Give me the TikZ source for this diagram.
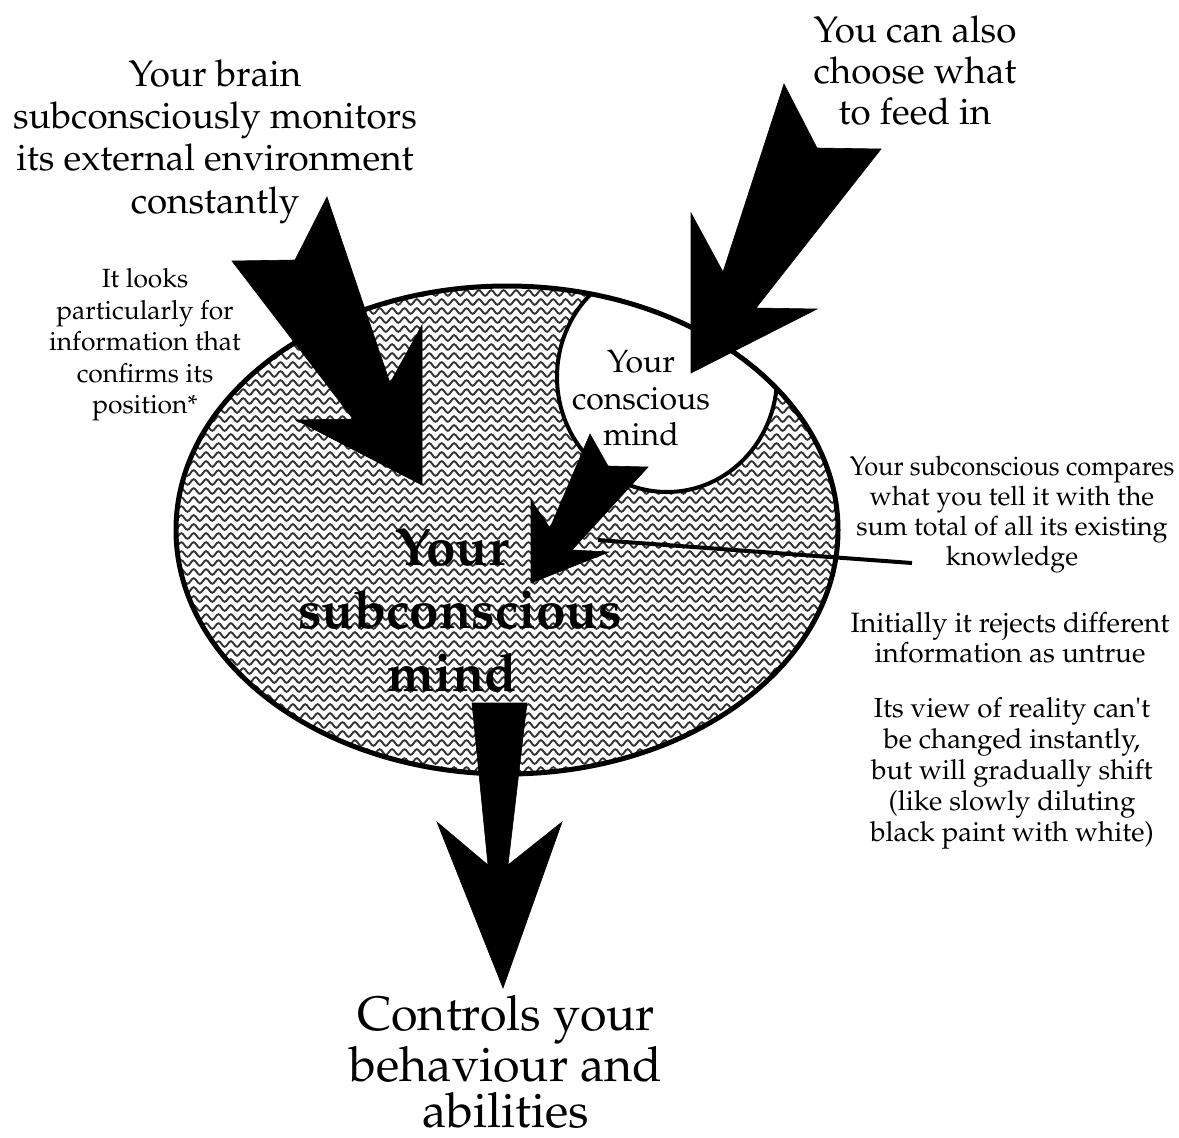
\documentclass[tikz,border=0pt]{standalone}
\usepackage[T1]{fontenc}
\usepackage{mathpazo}
\usetikzlibrary{decorations.pathmorphing}
\begin{document}
\begin{tikzpicture}[x=0.5pt,y=-0.5pt,
  txt/.style={align=center, inner sep=0pt, anchor=north},
  blockarrow/.style={fill=black, draw=black, line width=0.3pt, line join=miter},
  wave/.style={draw=black!80, line width=0.95pt, decorate,
    decoration={snake, segment length=6.2pt, amplitude=1.4pt}},
  rim/.style={draw=black, line width=2.5pt},
]
\useasboundingbox (0,0) rectangle (1179,1137);

% centres of the two regions of the mind
\coordinate (sub) at (507,530);
\coordinate (con) at (667,377);

% wavy fill of the subconscious region
\begin{scope}
  \clip (sub) ellipse [x radius=331, y radius=244];
  \foreach \r in {0,...,56} {
    \draw[wave] (165,284+9*\r) -- (850,284+9*\r);
  }
  % conscious region, cut off at the rim
  \filldraw[fill=white, draw=black, line width=2pt]
    (con) ellipse [x radius=110, y radius=115];
\end{scope}
\draw[rim] (sub) ellipse [x radius=331, y radius=244];

% texts
\node[txt, font=\fontsize{18.4}{21.2}\selectfont] (brain) at (215,59)
  {Your brain\\subconsciously monitors\\its external environment\\constantly};
\node[txt, font=\fontsize{18.4}{20.6}\selectfont] (feed) at (915,15)
  {You can also\\choose what\\to feed in};
\node[txt, font=\fontsize{13.2}{15.75}\selectfont] (looks) at (145,268)
  {It looks\\particularly for\\information that\\confirms its\\position*};
\node[txt, font=\fontsize{16}{18.25}\selectfont] (conscious) at (641,350)
  {Your\\conscious\\mind};
\node[txt, font=\fontsize{26.5}{31.5}\selectfont\bfseries] (subconscious) at (460,528)
  {Your\hspace*{8pt}\\subconscious\\mind\hspace*{8pt}};
\node[txt, font=\fontsize{13.4}{15}\selectfont] (compares) at (1012,456)
  {\scalebox{0.95}[1]{Your subconscious compares}\\what you tell it with the\\sum total of all its existing\\knowledge};
\node[txt, font=\fontsize{14}{15}\selectfont] (rejects) at (1010,612)
  {Initially it rejects different\\information as untrue};
\node[txt, font=\fontsize{13.8}{15.5}\selectfont] (reality) at (1012,697)
  {Its view of reality can\textquotesingle t\\be changed instantly,\\ but will gradually shift\\(like slowly diluting\\ black paint with white)};
\node[txt, font=\fontsize{24.2}{23.2}\selectfont] (controls) at (506,995)
  {Controls your\\behaviour and\\abilities};

% block arrows
\fill[blockarrow] (327,197) -- (295,260) -- (232,261) -- (353,419) -- (296,420)
  -- (422,485) -- (422,325) -- (390,383) -- cycle;
\fill[blockarrow] (784,84) -- (817,148) -- (881,149) -- (756,308) -- (817,309)
  -- (691,373) -- (691,213) -- (723,272) -- cycle;
\fill[blockarrow] (590,434) -- (608,466) -- (648,467) -- (572,550) -- (609,552)
  -- (531,583) -- (531,500) -- (550,528) -- cycle;
\fill[blockarrow] (472,703) -- (527,703) -- (508,865) -- (562,822) -- (503,988)
  -- (437,822) -- (488,865) -- cycle;

% pointer from the comparison note into the subconscious
\coordinate (cmpIn) at (598,540);
\coordinate (cmpOut) at (912,563);
\draw[line width=2pt] (cmpIn) -- (cmpOut);
\end{tikzpicture}
\end{document}
